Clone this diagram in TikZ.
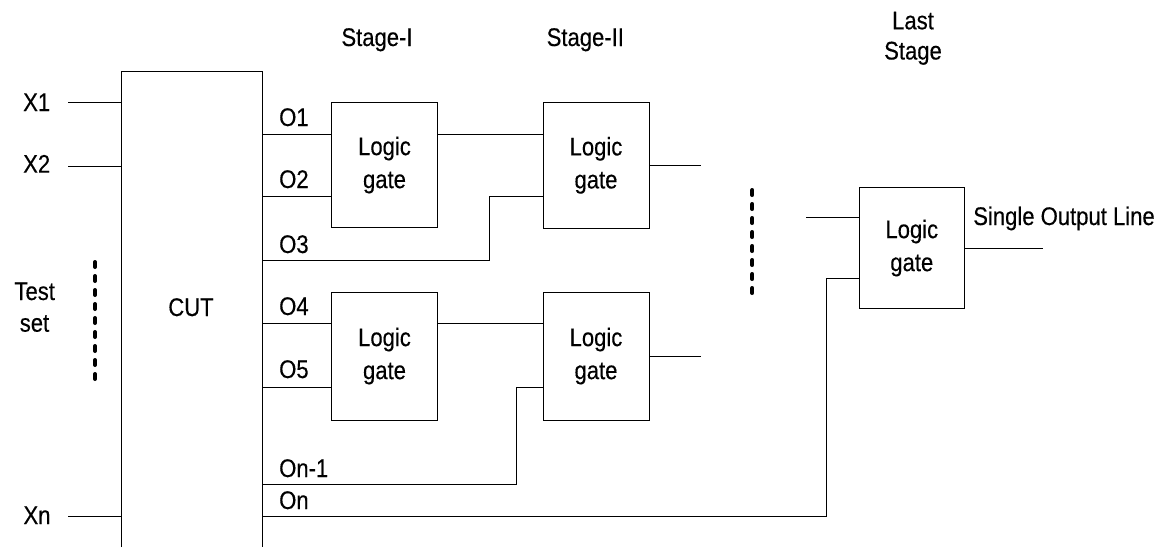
\documentclass[tikz,border=0pt]{standalone}
\usepackage{fontspec}
\setmainfont{Liberation Sans}[FakeStretch=0.865,FakeBold=0.3]
\newcommand\lblfont{\fontsize{25.5}{33}\selectfont}
\begin{document}
\begin{tikzpicture}[x=1pt,y=-1pt,
  wire/.style={line width=0.8pt},
  gate/.style={draw,line width=0.8pt,minimum width=106pt,minimum height=126pt,align=center,inner sep=0pt,font=\lblfont},
  lbl/.style={font=\lblfont,inner sep=0pt,anchor=base},
  olbl/.style={font=\lblfont,inner sep=0pt,anchor=base west},
  dots/.style={line width=4pt,line cap=round,dash pattern=on 5pt off 9pt}]
\useasboundingbox (0,0) rectangle (1166,547);

% CUT block (open at the bottom)
\coordinate (cutTL) at (121,71);
\coordinate (cutTR) at (262,71);
\coordinate (cutBL) at (121,547);
\coordinate (cutBR) at (262,547);
\draw[wire] (cutBL) -- (cutTL) -- (cutTR) -- (cutBR);
\node[lbl] (cut) at (191,316) {CUT};

% gates
\node[gate,minimum height=125.5pt] (g1) at (384.5,165) {Logic\\gate};
\node[gate] (g2) at (596,165.3) {Logic\\gate};
\node[gate,minimum height=128pt] (g3) at (384.5,356) {Logic\\gate};
\node[gate,minimum height=128pt] (g4) at (596,356) {Logic\\gate};
\node[gate,minimum width=105pt,minimum height=120.6pt] (g5) at (911.8,248) {Logic\\gate};

% inputs
\coordinate (in1) at (68,102);
\coordinate (in2) at (68,166);
\coordinate (inn) at (68,516);
\draw[wire] (in1) -- (in1 -| cutTL);
\draw[wire] (in2) -- (in2 -| cutTL);
\draw[wire] (inn) -- (inn -| cutTL);
\node[lbl] (x1) at (36.7,111) {X1};
\node[lbl] (x2) at (36.7,172.7) {X2};
\node[lbl] (xn) at (37,524) {Xn};
\node[lbl] (test) at (34.7,300) {Test};
\node[lbl] (set) at (34.5,331.7) {set};
\draw[dots] (95,262) -- (95,380);

% CUT outputs
\coordinate (o1) at (262,134);
\coordinate (o2) at (262,196.7);
\coordinate (o3) at (262,260);
\coordinate (o4) at (262,323.3);
\coordinate (o5) at (262,387.7);
\coordinate (on1) at (262,484.3);
\coordinate (on) at (262,516);
\coordinate (j1) at (489.3,260);
\coordinate (j2) at (516,484.3);
\coordinate (j3) at (826.7,516);
\coordinate (l2) at (826.7,278);
\coordinate (l1) at (806,217.7);

\draw[wire] (o1) -- (o1 -| g1.west);
\draw[wire] (o2) -- (o2 -| g1.west);
\draw[wire] (o3) -- (j1) |- (g2.west |- o2);
\draw[wire] (o4) -- (o4 -| g3.west);
\draw[wire] (o5) -- (o5 -| g3.west);
\draw[wire] (on1) -- (j2) |- (g4.west |- o5);
\draw[wire] (on) -- (j3) -- (l2) -- (l2 -| g5.west);

\node[olbl] (lo1) at (279,126) {O1};
\node[olbl] (lo2) at (279,188) {O2};
\node[olbl] (lo3) at (279,253) {O3};
\node[olbl] (lo4) at (279,315) {O4};
\node[olbl] (lo5) at (279,378) {O5};
\node[olbl] (lon1) at (279,477) {On-1};
\node[olbl] (lon) at (279,509) {On};

% stage connections
\draw[wire] (g1.east |- o1) -- (g2.west |- o1);
\draw[wire] (g3.east |- o4) -- (g4.west |- o4);
\coordinate (e2) at (701,165.3);
\coordinate (e4) at (700.7,356);
\coordinate (e5) at (1043,248);
\draw[wire] (g2.east) -- (e2);
\draw[wire] (g4.east) -- (e4);
\draw[wire] (l1) -- (l1 -| g5.west);
\draw[wire] (g5.east) -- (e5);
\draw[dots] (752.3,190) -- (752.3,301);

% headings
\node[lbl] (s1) at (377,46) {Stage-I};
\node[lbl] (s2) at (585.3,46) {Stage-II};
\node[lbl] (last1) at (913,29.3) {Last};
\node[lbl] (last2) at (913,59.5) {Stage};
\node[lbl] (sol) at (1064,225) {Single Output Line};
\end{tikzpicture}
\end{document}
